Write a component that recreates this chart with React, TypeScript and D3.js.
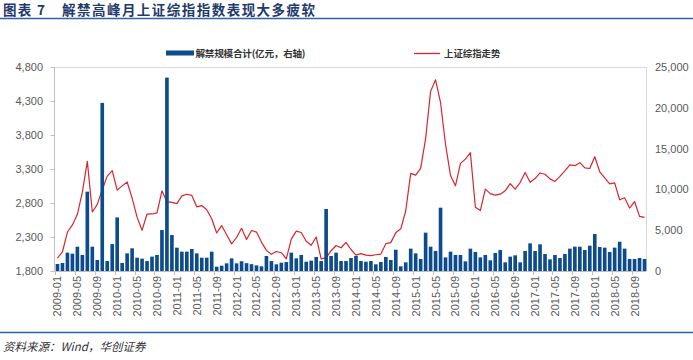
import React from 'react';
import * as d3 from 'd3';

// 解禁规模合计 (亿元, right axis), monthly 2009-01 .. 2018-11
const unlockValues: number[] = [
  860, 980, 2250, 2120, 2980, 1960, 9720, 2980, 1350, 20600, 1220, 3300,
  6570, 980, 2160, 2780, 1630, 1510, 1220, 1760, 1960, 5020, 23700, 4410,
  2860, 2370, 2370, 2700, 2160, 1630, 1630, 2370, 530, 650, 940, 1550,
  940, 1200, 960, 840, 690, 570, 1840, 1220, 820, 1020, 1100, 2250,
  1550, 1960, 1140, 1270, 1720, 1220, 7600, 1840, 2250, 1220, 1220, 1590,
  1840, 1220, 1140, 1220, 820, 1100, 1720, 1350, 2610, 570, 1060, 2740,
  2160, 1470, 4700, 2980, 2450, 7760, 1670, 2370, 1960, 1960, 1180, 2740,
  2330, 1670, 1960, 1310, 2210, 2570, 1060, 1760, 1920, 1060, 2450, 3390,
  2450, 3270, 2080, 1430, 1960, 1590, 2080, 2740, 2980, 2980, 2570, 3100,
  4530, 2940, 2860, 2330, 2860, 3590, 2740, 1470, 1470, 1590, 1470,
];

// 上证综指走势 (left axis)
const sseClose: number[] = [
  1990.66, 2082.85, 2373.21, 2477.57, 2632.93, 2959.36, 3412.06, 2667.75, 2779.43, 2995.85, 3195.3, 3277.14,
  2989.29, 3051.94, 3109.11, 2870.61, 2592.15, 2398.37, 2637.5, 2638.8, 2655.66, 2978.84, 2820.18, 2808.08,
  2790.69, 2905.05, 2928.11, 2911.51, 2743.47, 2762.08, 2701.73, 2567.34, 2359.22, 2468.25, 2333.41, 2199.42,
  2292.61, 2428.49, 2262.79, 2396.32, 2372.23, 2225.43, 2103.63, 2047.52, 2086.17, 2068.88, 1980.12, 2269.13,
  2385.42, 2365.59, 2236.62, 2177.91, 2300.59, 1979.21, 1993.8, 2098.38, 2174.67, 2141.61, 2220.5, 2115.98,
  2033.08, 2056.3, 2033.31, 2026.36, 2039.21, 2048.33, 2201.56, 2217.2, 2363.87, 2420.18, 2682.83, 3234.68,
  3210.36, 3310.3, 3747.9, 4441.66, 4611.74, 4277.22, 3663.73, 3205.99, 3052.78, 3382.56, 3445.4, 3539.18,
  2737.6, 2687.98, 3003.92, 2938.32, 2916.62, 2929.61, 2979.34, 3085.49, 3004.7, 3100.49, 3250.03, 3103.64,
  3159.17, 3241.73, 3222.51, 3154.66, 3117.18, 3192.43, 3273.03, 3360.81, 3348.94, 3393.34, 3317.19, 3307.17,
  3480.83, 3259.41, 3168.9, 3082.23, 3095.47, 2847.42, 2876.4, 2725.25, 2821.35, 2602.78, 2588.19,
];

const leftTicks: number[] = [1800, 2300, 2800, 3300, 3800, 4300, 4800];
const rightTicks: number[] = [0, 5000, 10000, 15000, 20000, 25000];
const months: string[] = d3
  .timeMonth.range(new Date(2009, 0, 1), new Date(2018, 11, 1))
  .map(d3.timeFormat('%Y-%m'));
const labelEvery = 4;

const titleLabel = '图表 7';
const titleText = '解禁高峰月上证综指指数表现大多疲软';
const barLegend = '解禁规模合计(亿元，右轴)';
const lineLegend = '上证综指走势';
const sourceText = '资料来源：Wind，华创证券';

const W = 693;
const H = 360;
const L = 54.5;
const R = 646.5;
const T = 67;
const B = 271;

const BAR = '#0C4C8C';
const LINE = '#D7262E';
const NAVY = '#1F3A6B';
const RULE = '#2F62A8';
const NUM = 'Liberation Sans, Arial, sans-serif';
const CJK = 'Noto Sans CJK SC, sans-serif';

export default function App() {
  const x = d3.scaleBand<string>().domain(months).range([L + 0.5, R + 0.5]).paddingInner(0.27).paddingOuter(0.135);
  const yL = d3.scaleLinear().domain([1800, 4800]).range([B, T]);
  const yR = d3.scaleLinear().domain([0, 25000]).range([B, T]);
  const bw = x.bandwidth();
  const boundary = (m: string) => (x(m) as number) - (x.step() * x.paddingInner()) / 2;
  const fmt = d3.format(',');

  const line = d3
    .line<number>()
    .x((_, i) => (x(months[i]) as number) + bw / 2)
    .y((d) => yL(d));

  const tickMonths = months.filter((_, i) => i % labelEvery === 0);

  return (
    <svg width={W} height={H} style={{ position: 'absolute', left: 0, top: 0, background: '#fff' }}>
      <rect x={0} y={0} width={W} height={H} fill="#fff" />
      {/* title */}
      <text x={3} y={15} fontFamily={CJK} fontWeight={700} fontSize={13.5} fill={NAVY} textLength={42} lengthAdjust="spacing">{titleLabel}</text>
      <text x={62} y={15} fontFamily={CJK} fontWeight={700} fontSize={13.5} fill={NAVY} textLength={253} lengthAdjust="spacing">{titleText}</text>
      <line x1={0} x2={W} y1={18.5} y2={18.5} stroke={RULE} strokeWidth={1.5} />

      {/* legend */}
      <rect x={166} y={50.5} width={28} height={5} fill={BAR} />
      <text x={195.5} y={56.5} fontFamily={CJK} fontWeight={700} fontSize={9.6} fill="#333" textLength={110} lengthAdjust="spacing">{barLegend}</text>
      <line x1={414} x2={440} y1={53.5} y2={53.5} stroke={LINE} strokeWidth={1.3} />
      <text x={444} y={56.5} fontFamily={CJK} fontWeight={700} fontSize={9.4} fill="#333">{lineLegend}</text>

      {/* frame */}
      <line x1={L} x2={R} y1={T + 0.5} y2={T + 0.5} stroke="#d9d9d9" strokeWidth={1} />
      <line x1={R} x2={R} y1={T} y2={B} stroke="#d9d9d9" strokeWidth={1} />

      {/* line (primary) */}
      <path d={line(sseClose) || ''} fill="none" stroke={LINE} strokeWidth={1.2} strokeLinejoin="round" />

      {/* bars (secondary, drawn on top) */}
      {unlockValues.map((v, i) => (
        <rect key={months[i]} x={x(months[i])} y={yR(v)} width={bw} height={B - yR(v)} fill={BAR} />
      ))}

      {/* left axis */}
      <line x1={L} x2={L} y1={T} y2={B} stroke="#bfbfbf" strokeWidth={1} />
      {leftTicks.map((t) => (
        <g key={t}>
          <line x1={L - 4} x2={L} y1={Math.round(yL(t)) + 0.5} y2={Math.round(yL(t)) + 0.5} stroke="#bfbfbf" />
          <text x={43} y={yL(t) + 4} textAnchor="end" fontFamily={NUM} fontSize={11} fill="#595959">{fmt(t)}</text>
        </g>
      ))}

      {/* right axis labels */}
      {rightTicks.map((t) => (
        <text key={t} x={655} y={yR(t) + 4} fontFamily={NUM} fontSize={11} fill="#595959">{fmt(t)}</text>
      ))}

      {/* bottom axis */}
      <line x1={L} x2={R} y1={B + 0.5} y2={B + 0.5} stroke="#bfbfbf" strokeWidth={1} />
      {tickMonths.map((m) => {
        const bx = Math.round(boundary(m)) + 0.5;
        const cx = (x(m) as number) + bw / 2;
        return (
          <g key={m}>
            <line x1={bx} x2={bx} y1={B} y2={B + 4} stroke="#bfbfbf" />
            <text
              transform={`translate(${cx + 4},${B + 5}) rotate(-90)`}
              textAnchor="end"
              fontFamily={NUM}
              fontSize={11}
              fill="#595959"
            >
              {m}
            </text>
          </g>
        );
      })}

      {/* footer */}
      <line x1={0} x2={W} y1={332.5} y2={332.5} stroke={RULE} strokeWidth={1.5} />
      <text x={3} y={351} fontFamily={CJK} fontStyle="italic" fontSize={11.5} fill="#333">{sourceText}</text>
    </svg>
  );
}
